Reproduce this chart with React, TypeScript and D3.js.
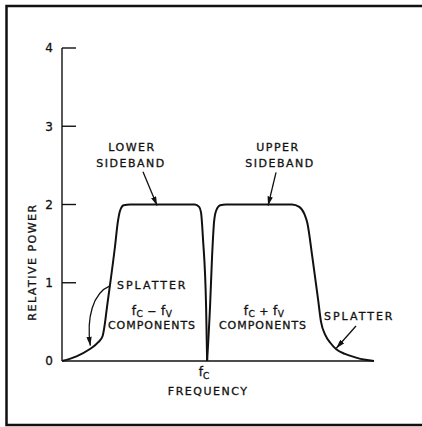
import React from "react";
import * as d3 from "d3";

// Relative frequency (fc = 0) and relative power
const lowerFreq = [-10, -9, -8.1, -7.5, -7.2, -7.05, -6.9, -6.7, -6.35, -6.15, -6.0, -5.75, -5.3, -0.85, -0.55, -0.42, -0.28, -0.07, 0];
const lowerPower = [0, 0.06, 0.15, 0.24, 0.32, 0.47, 0.69, 0.96, 1.46, 1.78, 1.92, 1.99, 2.0, 2.0, 1.97, 1.9, 1.55, 0.69, 0];
const upperFreq = [0, 0.2, 0.34, 0.48, 0.62, 0.9, 1.3, 5.85, 6.35, 6.7, 6.9, 7.25, 7.65, 7.85, 8.15, 8.5, 8.9, 9.5, 10.15, 10.9, 11.5];
const upperPower = [0, 0.69, 1.33, 1.78, 1.92, 1.99, 2.0, 2.0, 1.97, 1.88, 1.77, 1.33, 0.78, 0.5, 0.33, 0.23, 0.15, 0.09, 0.05, 0.015, 0];
const yTicks = [0, 1, 2, 3, 4];
const yTickLabels = ["0", "1", "2", "3", "4"];

const W = 422;
const H = 427;
const FONT = "'DejaVu Sans', sans-serif";

export default function App() {
  const x = d3.scaleLinear().domain([-10, 11.5]).range([62, 374]);
  const y = d3.scaleLinear().domain([0, 4]).range([361, 48]);
  const line = d3
    .line<[number, number]>()
    .x((d) => x(d[0]))
    .y((d) => y(d[1]))
    .curve(d3.curveMonotoneX);
  const lowerPts = lowerFreq.map((f, i) => [f, lowerPower[i]] as [number, number]);
  const upperPts = upperFreq.map((f, i) => [f, upperPower[i]] as [number, number]);

  const txt = {
    fontFamily: FONT,
    fontSize: 11,
    letterSpacing: 1.5,
    fill: "#111",
    stroke: "#111",
    strokeWidth: 0.3,
  } as React.CSSProperties;

  // splatter arrow (left)
  const s0x = x(-6.7), s0y = y(0.96);
  const s1x = x(-8.05), s1y = y(0.17);
  const splatterPath = `M${s0x},${s0y} C${s0x - 17},${s0y + 7} ${s1x - 4},${s0y + 32} ${s1x},${s1y - 2}`;

  return (
    <svg
      width={W}
      height={H}
      style={{ position: "absolute", left: 0, top: 0, background: "#fff" }}
    >
      <defs>
        <marker
          id="ah"
          viewBox="0 0 10 6"
          refX="10"
          refY="3"
          markerWidth="9"
          markerHeight="5.4"
          markerUnits="userSpaceOnUse"
          orient="auto"
        >
          <path d="M0,0 L10,3 L0,6 Z" fill="#111" />
        </marker>
      </defs>
      <rect x={0} y={0} width={W} height={H} fill="#fff" />
      {/* frame */}
      <path d={`M${W},6 L6.5,6 L6.5,425 L${W},425`} fill="none" stroke="#111" strokeWidth={2.5} />

      {/* axes */}
      <line x1={x(-10)} y1={y(0)} x2={x(11.5)} y2={y(0)} stroke="#111" strokeWidth={1.6} />
      <line x1={x(-10)} y1={y(0)} x2={x(-10)} y2={y(4)} stroke="#111" strokeWidth={1.4} />
      {yTicks.map((t, i) => (
        <g key={t}>
          {t > 0 && (
            <line x1={x(-10)} y1={y(t)} x2={x(-10) + 14} y2={y(t)} stroke="#111" strokeWidth={1.4} />
          )}
          <text
            x={49}
            y={y(t)}
            dy="0.36em"
            textAnchor="middle"
            style={{ ...txt, fontSize: 12, letterSpacing: 0 }}
          >
            {yTickLabels[i]}
          </text>
        </g>
      ))}

      {/* curves */}
      <path d={line(lowerPts) || ""} fill="none" stroke="#111" strokeWidth={2} strokeLinejoin="miter" />
      <path d={line(upperPts) || ""} fill="none" stroke="#111" strokeWidth={2} strokeLinejoin="miter" />

      {/* axis labels */}
      <text
        transform={`translate(36,${262}) rotate(-90)`}
        textAnchor="middle"
        style={txt}
      >
        RELATIVE POWER
      </text>
      <text x={x(0) + 1} y={395} textAnchor="middle" style={txt}>
        FREQUENCY
      </text>
      <text x={x(0) - 3} y={376} textAnchor="middle" style={{ ...txt, letterSpacing: 0 }}>
        <tspan fontSize={12}>f</tspan>
        <tspan fontSize={9} dy={3}>C</tspan>
      </text>

      {/* sideband labels */}
      <text x={132} y={151} textAnchor="middle" style={txt}>LOWER</text>
      <text x={131} y={167} textAnchor="middle" style={txt}>SIDEBAND</text>
      <line x1={x(-4.42)} y1={y(2.42)} x2={x(-3.45)} y2={y(2.0) + 1} stroke="#111" strokeWidth={1.3} markerEnd="url(#ah)" />

      <text x={278} y={151} textAnchor="middle" style={txt}>UPPER</text>
      <text x={280} y={167} textAnchor="middle" style={txt}>SIDEBAND</text>
      <line x1={x(4.75)} y1={y(2.41)} x2={x(4.2)} y2={y(2.0) + 1} stroke="#111" strokeWidth={1.3} markerEnd="url(#ah)" />

      {/* components */}
      <text x={152} y={315} textAnchor="middle" style={{ ...txt, letterSpacing: 0.5 }}>
        <tspan fontSize={12}>f</tspan>
        <tspan fontSize={9} dy={2}>C</tspan>
        <tspan dy={-2}> − </tspan>
        <tspan fontSize={12}>f</tspan>
        <tspan fontSize={9} dy={2}>V</tspan>
      </text>
      <text x={152} y={329} textAnchor="middle" style={{ ...txt, letterSpacing: 1 }}>COMPONENTS</text>

      <text x={264} y={315} textAnchor="middle" style={{ ...txt, letterSpacing: 0.5 }}>
        <tspan fontSize={12}>f</tspan>
        <tspan fontSize={9} dy={2}>C</tspan>
        <tspan dy={-2}> + </tspan>
        <tspan fontSize={12}>f</tspan>
        <tspan fontSize={9} dy={2}>V</tspan>
      </text>
      <text x={263} y={329} textAnchor="middle" style={{ ...txt, letterSpacing: 1 }}>COMPONENTS</text>

      {/* splatter */}
      <text x={117} y={289} style={{ ...txt, letterSpacing: 2 }}>SPLATTER</text>
      <path d={splatterPath} fill="none" stroke="#111" strokeWidth={1.3} markerEnd="url(#ah)" />

      <text x={324} y={320} style={{ ...txt, letterSpacing: 2 }}>SPLATTER</text>
      <line x1={356} y1={326} x2={x(8.9)} y2={y(0.15) - 1} stroke="#111" strokeWidth={1.3} markerEnd="url(#ah)" />
    </svg>
  );
}
